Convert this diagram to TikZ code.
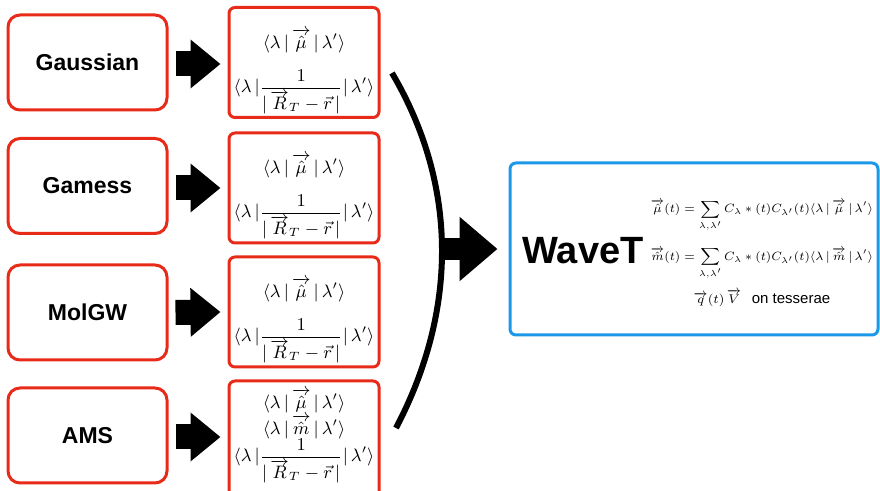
\documentclass[tikz,border=0pt]{standalone}
\usepackage{amsmath}
\usepackage{graphicx}
\usepackage{fontspec}
\setsansfont{Liberation Sans}
\usetikzlibrary{arrows.meta,positioning}
\definecolor{boxred}{RGB}{232,42,24}
\definecolor{boxblue}{RGB}{28,152,232}
\newcommand{\mbra}{\langle\lambda\,|\,}
\newcommand{\mket}{\,|\,\lambda'\rangle}
\newcommand{\muvec}{\overrightarrow{\hat{\mu}}}
\newcommand{\mvec}{\overrightarrow{\hat{m}}}
\newcommand{\coulomb}{$\displaystyle\langle\lambda\,|\dfrac{1}{|\,\overrightarrow{R}_T-\vec{r}\,|}|\,\lambda'\rangle$}

\begin{document}
\begin{tikzpicture}[x=0.5pt, y=-0.5pt,
    progbox/.style={draw=boxred, line width=1.5pt, rounded corners=6pt, minimum width=79.5pt, minimum height=47.5pt, font=\sffamily\bfseries\fontsize{11.5}{13}\selectfont},
    matbox/.style={draw=boxred, line width=1.5pt, rounded corners=3pt, minimum width=75pt, minimum height=55pt},
    mtext/.style={inner sep=0pt, font=\fontsize{9}{10}\selectfont},
    fatarrow/.style={line width=12.5pt, -{Triangle[length=15pt,width=23.5pt]}},
    bigarrow/.style={line width=11pt, -{Triangle[length=19pt,width=31pt]}}]
    \useasboundingbox (0,0) rectangle (880,491);

    % codes producing the matrix elements
    \node[progbox] (gauss) at (87.5,62.5) {Gaussian};
    \node[progbox] (gamess) at (87.5,186) {Gamess};
    \node[progbox] (molgw) at (87.5,312.5) {MolGW};
    \node[progbox] (ams) at (87.5,435.5) {AMS};

    \node[matbox] (mat1) at (304,62.5) {};
    \node[matbox] (mat2) at (304,188) {};
    \node[matbox] (mat3) at (304,312) {};
    \node[matbox, minimum height=60pt] (mat4) at (304,441) {};

    \node[mtext] (mu1) at (304,41) {$\mbra\muvec\mket$};
    \node[mtext] (cb1) at (304,92) {\coulomb};
    \node[mtext] (mu2) at (304,166) {$\mbra\muvec\mket$};
    \node[mtext] (cb2) at (304,217) {\coulomb};
    \node[mtext] (mu3) at (304,290) {$\mbra\muvec\mket$};
    \node[mtext] (cb3) at (304,341) {\coulomb};
    \node[mtext] (mu4) at (304,401) {$\mbra\muvec\mket$};
    \node[mtext] (m4) at (304,427) {$\mbra\mvec\mket$};
    \node[mtext] (cb4) at (304,461) {\coulomb};

    \draw[fatarrow] ([xshift=3.5pt,yshift=-0.75pt]gauss.east) -- ([xshift=-3.5pt,yshift=-0.75pt]mat1.west);
    \draw[fatarrow] ([xshift=3.5pt,yshift=-1pt]gamess.east) -- ([xshift=-3.5pt]mat2.west);
    \draw[fatarrow] ([xshift=3.5pt]molgw.east) -- ([xshift=-3.5pt]mat3.west);
    \draw[fatarrow] ([xshift=3.5pt,yshift=-0.75pt]ams.east) -- ([xshift=-3.5pt,yshift=2pt]mat4.west);

    % WaveT
    \node[draw=boxblue, line width=1.5pt, rounded corners=3pt, minimum width=184pt, minimum height=86pt] (wave) at (694,249) {};
    \node[font=\sffamily\bfseries\fontsize{19}{23}\selectfont] (wlabel) at (583,251) {WaveT};
    \node[align=center, inner sep=0pt, font=\fontsize{7}{8}\selectfont] (eqs) at (762,253)
        {\scalebox{0.86}{$\begin{aligned}
            \muvec(t) &= \sum_{\lambda,\lambda'} C_\lambda * (t) C_{\lambda'}(t)\mbra\muvec\mket\\[5pt]
            \mvec(t) &= \sum_{\lambda,\lambda'} C_\lambda * (t) C_{\lambda'}(t)\mbra\mvec\mket
          \end{aligned}$}\\[4pt]
         \scalebox{0.9}{$\overrightarrow{q}(t)\,\overrightarrow{V}$}\ \ {\sffamily\fontsize{7.5}{9}\selectfont on tesserae}};

    \coordinate (arctop) at (392,73);
    \coordinate (arcmid) at (442,249);
    \coordinate (arcbot) at (396,428);
    \draw[line width=3pt] (arctop) .. controls (458,185) and (458,310) .. (arcbot);
    \draw[bigarrow] (arcmid) -- ([xshift=-5.5pt]wave.west);
\end{tikzpicture}
\end{document}
